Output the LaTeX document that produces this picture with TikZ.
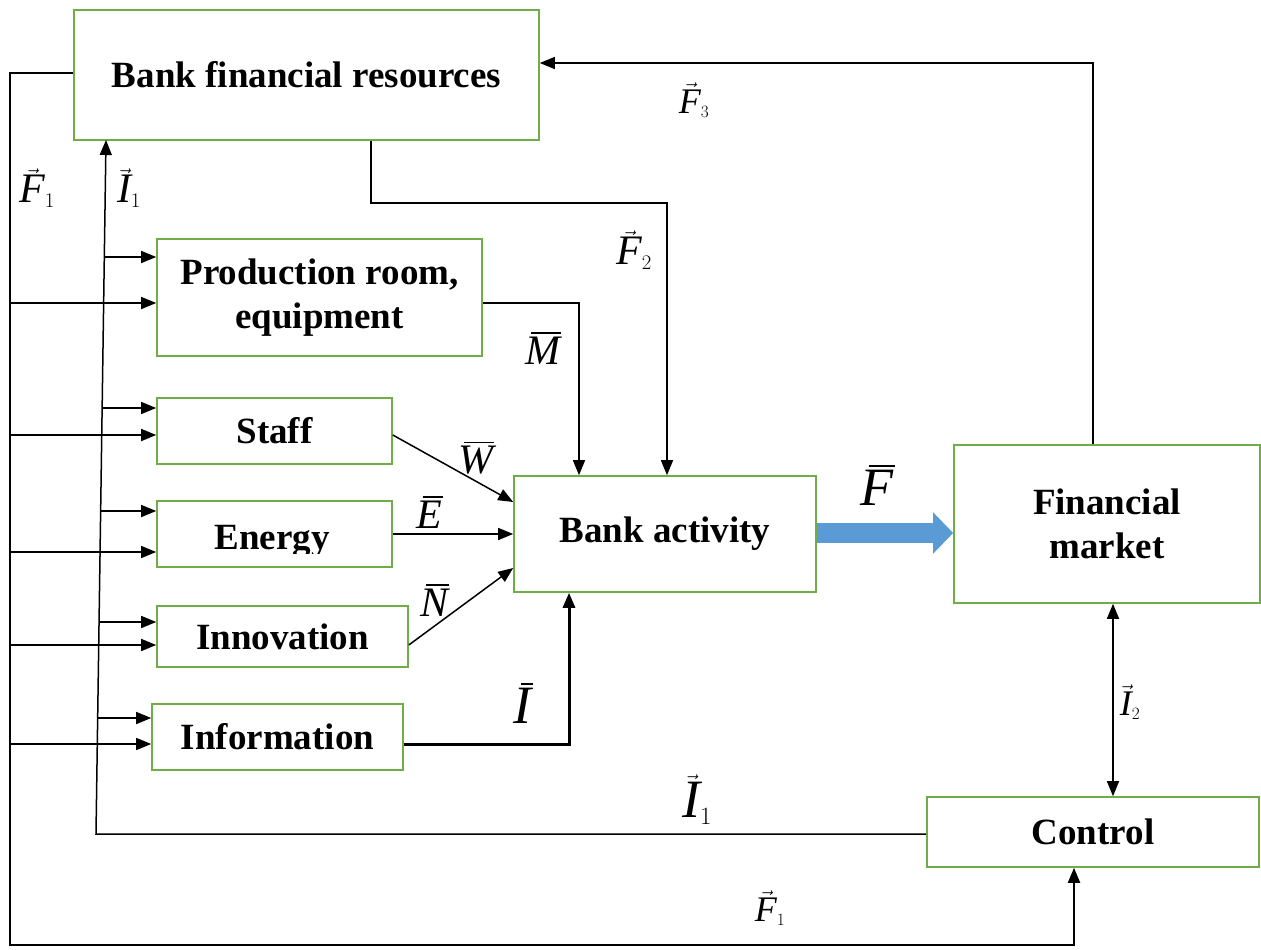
\documentclass[tikz,border=0pt]{standalone}
\usepackage{fontspec}
\setmainfont{Liberation Serif}
\usetikzlibrary{arrows.meta,calc}
\definecolor{boxgreen}{RGB}{112,173,71}
\definecolor{arrowblue}{RGB}{91,155,213}
\newcommand{\vlab}[2]{$\vec{\textit{#1}}_{\scriptscriptstyle #2}$}
\newcommand{\blab}[1]{{\setbox0\hbox{\itshape #1}\vbox{\offinterlineskip\hbox{\kern0.14em\vrule width\dimexpr\wd0-0.12em\relax height 1.8pt depth 0pt}\kern3pt\box0}}}
\begin{document}
\begin{tikzpicture}[x=1pt,y=-1pt,
  box/.style={draw=boxgreen, line width=1.6pt, inner sep=0pt, align=center,
    font=\fontsize{37}{44}\selectfont\bfseries},
  conn/.style={line width=1.5pt, -{Triangle[length=15pt,width=12pt]}},
  lab/.style={font=\fontsize{42}{48}\selectfont, inner sep=0pt},
  biglab/.style={font=\fontsize{54}{60}\selectfont, inner sep=0pt},
  smalllab/.style={font=\fontsize{36}{42}\selectfont, inner sep=0pt}]
\useasboundingbox (0,0) rectangle (1261,950);
\fill[white] (0,0) rectangle (1261,950);

% boxes
\node[box, minimum width=465pt, minimum height=130pt] (bfr) at (306.5,75) {Bank financial resources};
\node[box, minimum width=325pt, minimum height=117pt] (prod) at (319.5,297.5) {Production room,\\equipment};
\node[box, minimum width=235pt, minimum height=66pt] (staff) at (274.5,431) {Staff};
\node[box, minimum width=235pt, minimum height=66pt] (energy) at (274.5,534) {};
\node[box, minimum width=251pt, minimum height=61pt] (inno) at (282.5,636.5) {Innovation};
\node[box, minimum width=251pt, minimum height=66pt] (info) at (277.5,737) {Information};
\node[box, minimum width=302pt, minimum height=116pt] (ba) at (665,534) {Bank activity};
\node[box, minimum width=306pt, minimum height=158pt] (fm) at (1107,524) {Financial\\market};
\node[box, minimum width=332pt, minimum height=70pt] (ctl) at (1093,832) {Control};
\begin{scope}
\clip (157,500) rectangle (392,553);
\node[box, draw=none, anchor=base] (energytext) at (272,549) {Energy};
\end{scope}

% outer loop F1
\coordinate (o1) at (10,73);
\coordinate (o2) at (10,945);
\coordinate (c1) at (1074,945);
\draw[conn, line width=2pt] (o1 -| bfr.west) -- (o1) -- (o2) -- (c1) -- (c1 |- ctl.south);
\foreach \n/\yy in {prod/303, staff/435, energy/552, inno/645, info/744}{
  \coordinate (p-\n) at (10,\yy);
  \draw[conn] (p-\n) -- (p-\n -| \n.west);
}

% inner loop I1
\coordinate (i0) at (96,834);
\coordinate (i1) at (106,140);
\draw[conn] (i0 -| ctl.west) -- (i0) -- (i1);
\foreach \n/\xx/\yy in {prod/104.3/257, staff/102.1/408, energy/100.7/511, inno/99.1/622, info/97.7/718}{
  \coordinate (q-\n) at (\xx,\yy);
  \draw[conn] (q-\n) -- (q-\n -| \n.west);
}

% F2
\coordinate (f2a) at (371,203);
\coordinate (f2b) at (667,203);
\draw[conn] (f2a |- bfr.south) -- (f2a) -- (f2b) -- (f2b |- ba.north);
% M
\coordinate (m1) at (579,303);
\draw[conn] (m1 -| prod.east) -- (m1) -- (m1 |- ba.north);
% W, E, N
\draw[conn] ([yshift=-4pt]staff.east) -- ([yshift=32pt]ba.west);
\draw[conn] (energy.east) -- (energy.east -| ba.west);
\draw[conn] ([yshift=-8.5pt]inno.east) -- ([yshift=-34pt]ba.west);
% I
\coordinate (ii) at (569,744);
\draw[conn, line width=3pt] (ii -| info.east) -- (ii) -- (ii |- ba.south);
% F (blue)
\coordinate (b1) at (0,533);
\draw[arrowblue, line width=20pt, -{Triangle[length=20pt,width=40pt]}] (b1 -| ba.east) -- (b1 -| fm.west);
% F3
\coordinate (f3) at (1093,63);
\draw[conn] (f3 |- fm.north) -- (f3) -- (f3 -| bfr.east);
% I2
\coordinate (i2) at (1113,700);
\draw[line width=1.5pt, {Triangle[length=15pt,width=12pt]}-{Triangle[length=15pt,width=12pt]}] (i2 |- fm.south) -- (i2 |- ctl.north);

% labels
\node[lab] (lf1) at (37,188) {\vlab{F}{1}};
\node[lab] (li1) at (129,188) {\vlab{I}{1}};
\node[smalllab] (lf3) at (694,100) {\vlab{F}{3}};
\node[lab] (lf2) at (634,250) {\vlab{F}{2}};
\node[lab] (lm) at (543,348) {\blab{M}};
\node[lab] (lw) at (476,458) {\blab{W}};
\node[lab] (le) at (430,512) {\blab{E}};
\node[lab] (ln) at (435,600) {\blab{N}};
\node[biglab] (li) at (523,703) {\blab{I}};
\node[biglab] (lf) at (878,485) {\blab{F}};
\node[smalllab] (li2) at (1130,702) {\vlab{I}{2}};
\node[biglab] (li1b) at (697,800) {\vlab{I}{1}};
\node[smalllab] (lf1b) at (770,908) {\vlab{F}{1}};
\end{tikzpicture}
\end{document}
